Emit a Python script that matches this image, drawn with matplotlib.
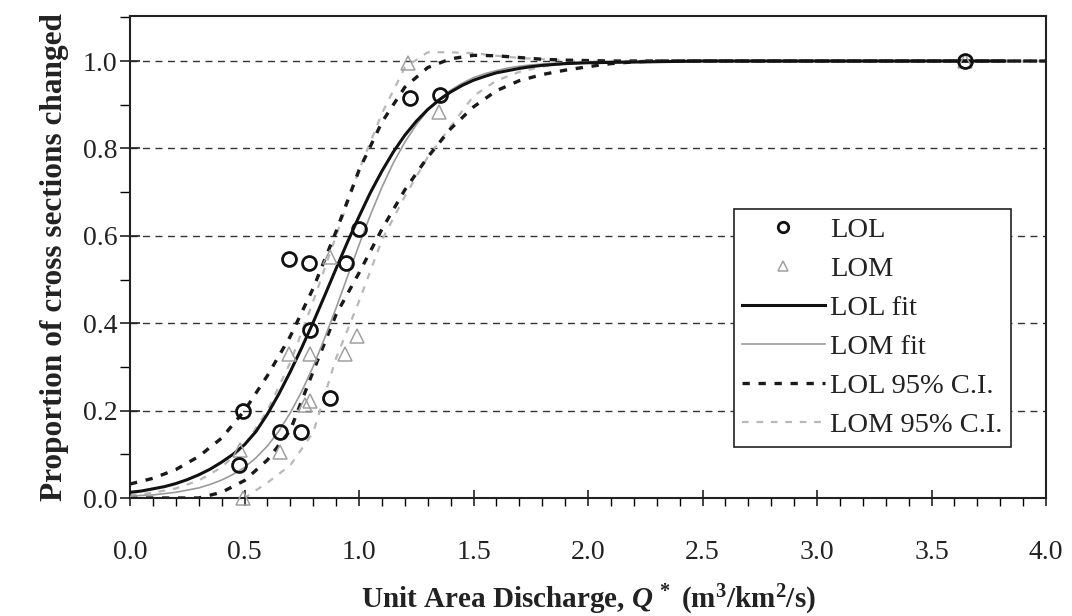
import matplotlib
matplotlib.use("Agg")
import matplotlib.pyplot as plt
from matplotlib.ticker import MultipleLocator, FormatStrFormatter

# ---------------- data ----------------
lol_x = [0.477, 0.495, 0.656, 0.748, 0.875, 0.696, 0.783, 0.788, 0.945, 0.998, 1.221, 1.352, 3.645]
lol_y = [0.075, 0.199, 0.151, 0.151, 0.229, 0.547, 0.538, 0.384, 0.538, 0.616, 0.915, 0.922, 1.000]

lom_x = [0.495, 0.481, 0.656, 0.765, 0.785, 0.696, 0.788, 0.875, 0.941, 0.993, 1.212, 1.348, 3.645]
lom_y = [0.000, 0.110, 0.105, 0.212, 0.222, 0.330, 0.330, 0.552, 0.330, 0.371, 0.995, 0.884, 1.000]

fit_x = [0.00, 0.05, 0.10, 0.15, 0.20, 0.25, 0.30, 0.35, 0.40, 0.45,
         0.50, 0.55, 0.60, 0.65, 0.70, 0.75, 0.80, 0.85, 0.90, 0.95,
         1.00, 1.05, 1.10, 1.15, 1.20, 1.25, 1.30, 1.35, 1.40, 1.45,
         1.50, 1.55, 1.60, 1.65, 1.70, 1.75, 1.80, 1.85, 1.90, 1.95,
         2.00, 2.50, 3.00, 3.82]
lol_fit = [0.013, 0.016, 0.021, 0.026, 0.033, 0.042, 0.053, 0.066, 0.082, 0.100,
           0.122, 0.152, 0.192, 0.238, 0.289, 0.344, 0.402, 0.463, 0.525, 0.586,
           0.644, 0.699, 0.748, 0.792, 0.830, 0.862, 0.889, 0.911, 0.929, 0.944,
           0.956, 0.965, 0.973, 0.978, 0.983, 0.987, 0.990, 0.992, 0.994, 0.995,
           0.996, 1.000, 1.000, 1.000]
lom_fit = [0.004, 0.006, 0.007, 0.010, 0.013, 0.018, 0.023, 0.031, 0.041, 0.054,
           0.070, 0.092, 0.119, 0.153, 0.195, 0.244, 0.301, 0.366, 0.435, 0.507,
           0.579, 0.648, 0.711, 0.767, 0.814, 0.854, 0.887, 0.913, 0.933, 0.949,
           0.962, 0.971, 0.978, 0.984, 0.988, 0.991, 0.993, 0.995, 0.996, 0.997,
           0.998, 1.000, 1.000, 1.000]

ci_x = [0.0, 0.1, 0.2, 0.3, 0.4, 0.5, 0.6, 0.7, 0.8, 0.9, 1.0, 1.1, 1.2,
        1.3, 1.4, 1.5, 1.6, 1.7, 1.8, 1.9, 2.0, 2.1, 2.2, 2.3, 3.0, 4.0]
lol_ci_hi = [0.032, 0.045, 0.065, 0.095, 0.137, 0.200, 0.280, 0.370, 0.480, 0.610,
             0.750, 0.860, 0.940, 0.985, 1.005, 1.013, 1.012, 1.008, 1.004, 1.002,
             1.001, 1.000, 1.000, 1.000, 1.000, 1.000]
lol_ci_lo = [0.000, 0.000, 0.000, 0.000, 0.013, 0.040, 0.087, 0.155, 0.290, 0.420,
             0.515, 0.615, 0.705, 0.780, 0.845, 0.895, 0.932, 0.955, 0.969, 0.979,
             0.987, 0.994, 0.998, 1.000, 1.000, 1.000]
lom_ci_hi = [0.006, 0.012, 0.022, 0.040, 0.070, 0.120, 0.200, 0.310, 0.450, 0.600,
             0.750, 0.880, 0.985, 1.020, 1.020, 1.018, 1.012, 1.007, 1.004, 1.002,
             1.001, 1.000, 1.000, 1.000, 1.000, 1.000]
lom_ci_lo = [-0.030, -0.030, -0.030, -0.030, -0.020, 0.000, 0.035, 0.075, 0.150, 0.320,
             0.450, 0.590, 0.690, 0.780, 0.850, 0.920, 0.955, 0.975, 0.987, 0.994,
             0.998, 1.000, 1.000, 1.000, 1.000, 1.000]

x_ticks = [0.0, 0.5, 1.0, 1.5, 2.0, 2.5, 3.0, 3.5, 4.0]
y_ticks = [0.0, 0.2, 0.4, 0.6, 0.8, 1.0]

# ---------------- style ----------------
plt.rcParams['font.family'] = ['Liberation Serif', 'DejaVu Serif']
plt.rcParams['mathtext.fontset'] = 'custom'
plt.rcParams['mathtext.rm'] = 'Liberation Serif:bold'
plt.rcParams['mathtext.bf'] = 'Liberation Serif:bold'
plt.rcParams['mathtext.it'] = 'Liberation Serif:italic:bold'

fig = plt.figure(figsize=(10.72, 6.16), dpi=100)
ax = fig.add_axes([130/1072, 1-498/616, 916/1072, 482/616])

ax.set_xlim(0, 4.0)
ax.set_ylim(0, 1.103)

for yv in y_ticks[1:]:
    ax.axhline(yv, color='#333333', lw=1.0, ls=(0, (5, 4)), zorder=1)

light = '#b8b8b8'
mid = '#9a9a9a'

ax.plot(ci_x, lom_ci_hi, color=light, lw=1.6, ls=(0, (3, 3.5)), zorder=2)
ax.plot(ci_x, lom_ci_lo, color=light, lw=1.6, ls=(0, (3, 3.5)), zorder=2,
        label='LOM 95% C.I.')
ax.plot(ci_x, lol_ci_hi, color='#1a1a1a', lw=2.4, ls=(0, (2.2, 2.6)), zorder=3)
ax.plot(ci_x, lol_ci_lo, color='#1a1a1a', lw=2.4, ls=(0, (2.2, 2.6)), zorder=3,
        label='LOL 95% C.I.')
ax.plot(fit_x, lom_fit, color=mid, lw=1.2, zorder=4, label='LOM fit')
ax.plot(fit_x, lol_fit, color='#111111', lw=2.2, zorder=5, label='LOL fit')

ax.plot(lom_x, lom_y, ls='none', marker='^', ms=10, mfc='none', mec='#a0a0a0',
        mew=1.1, zorder=6, clip_on=False, label='LOM')
ax.plot(lol_x, lol_y, ls='none', marker='o', ms=10, mfc='none', mec='#111111',
        mew=2.0, zorder=7, clip_on=False, label='LOL')

# ticks
ax.xaxis.set_minor_locator(MultipleLocator(0.1))
ax.yaxis.set_minor_locator(MultipleLocator(0.1))
ax.set_xticks(x_ticks)
ax.set_yticks(y_ticks)
ax.xaxis.set_major_formatter(FormatStrFormatter('%.1f'))
ax.yaxis.set_major_formatter(FormatStrFormatter('%.1f'))
ax.tick_params(axis='x', which='major', direction='inout', length=12, width=1.2,
               pad=24, labelsize=20, colors='#222222')
ax.tick_params(axis='x', which='minor', direction='out', length=6, width=1.0)
ax.tick_params(axis='y', which='major', direction='inout', length=14, width=1.2,
               pad=2, labelsize=20, colors='#222222')
ax.tick_params(axis='y', which='minor', direction='out', length=7, width=1.0)

for s in ax.spines.values():
    s.set_linewidth(1.5)
    s.set_color('#222222')

ax.set_xlabel(r'Unit Area Discharge, $\mathit{Q}^{\,*}$ (m$^{3}$/km$^{2}$/s)',
              fontsize=21, fontweight='bold', labelpad=13, color='#222222')
ax.set_ylabel('Proportion of cross sections changed', fontsize=22.5,
              fontweight='bold', labelpad=10, color='#222222')

# legend
handles, labels = ax.get_legend_handles_labels()
order = ['LOL', 'LOM', 'LOL fit', 'LOM fit', 'LOL 95% C.I.', 'LOM 95% C.I.']
hmap = dict(zip(labels, handles))
leg = ax.legend([hmap[k] for k in order], order, loc='upper left',
                bbox_to_anchor=(0.659, 0.60), borderaxespad=0, fontsize=20.5,
                frameon=True, fancybox=False, framealpha=1, edgecolor='#222222',
                handlelength=2.9, handletextpad=0.2, labelspacing=0.46,
                borderpad=0.3, markerscale=0.75)
leg.get_frame().set_linewidth(1.2)
for t in leg.get_texts():
    t.set_color('#222222')

fig.savefig('out.png', dpi=100, facecolor='white')
